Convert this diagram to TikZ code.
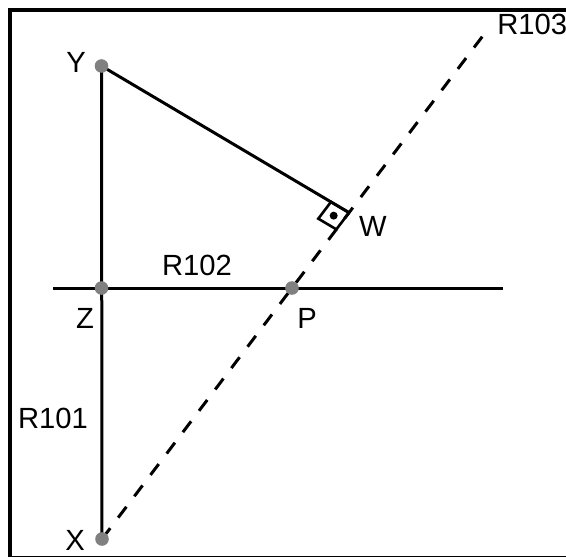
\documentclass[tikz,border=0pt]{standalone}
\usepackage{fontspec}
\setmainfont{Liberation Sans}
\usetikzlibrary{calc}
\begin{document}
\begin{tikzpicture}[x=0.5pt,y=-0.5pt,
  seg/.style={line width=1.5pt,black},
  dashseg/.style={line width=1.5pt,black,dash pattern=on 6.8pt off 6.6pt},
  ptdot/.style={circle,fill=black!50,inner sep=0pt,minimum size=6.8pt},
  lbl/.style={inner sep=0pt,font=\fontsize{14.6}{17}\selectfont},
  frame/.style={line width=1.6pt,black}]
\useasboundingbox (0,0) rectangle (566,556);
% frame
\draw[frame] (10,10) rectangle (620,557.5);
% points
\coordinate (Y) at (101.5,66);
\coordinate (Z) at (101.5,288);
\coordinate (X) at (102,539);
\coordinate (T) at (485,33);
\coordinate (L) at (53,288);
\coordinate (Rr) at (503,288);
\path let \p1=(X), \p2=(T) in coordinate (P) at ({\x1+(288-539)/(33-539)*(\x2-\x1)},288);
\coordinate (W) at ($(X)!0.645!(T)$);
% lines
\draw[seg] (Y) -- (X);
\draw[seg] (L) -- (Rr);
\draw[dashseg] (X) -- (T);
\draw[seg] (Y) -- (W);
% right angle mark
\coordinate (Wa) at ($(W)!10.5pt!(Y)$);
\coordinate (Wb) at ($(W)!10.5pt!(X)$);
\coordinate (Wc) at ($(Wa)+(Wb)-(W)$);
\draw[line width=1.3pt,line join=miter] (W) -- (Wa) -- (Wc) -- (Wb) -- cycle;
\fill (barycentric cs:Wa=1,Wb=1) circle (2pt);
% dots
\node[ptdot] (nY) at (Y) {};
\node[ptdot] (nZ) at (Z) {};
\node[ptdot] (nX) at (X) {};
\node[ptdot] (nP) at (P) {};
% labels
\node[lbl] (tY) at (76,62) {Y};
\node[lbl] (tZ) at (85,318) {Z};
\node[lbl] (tP) at (307,318) {P};
\node[lbl] (tX) at (75,540) {X};
\node[lbl] (tW) at (373,226) {W};
\node[lbl] (tR102) at (197,265) {R102};
\node[lbl] (tR101) at (53,418) {R101};
\node[lbl,anchor=west] (tR103) at (497,24) {R103};
\end{tikzpicture}
\end{document}
